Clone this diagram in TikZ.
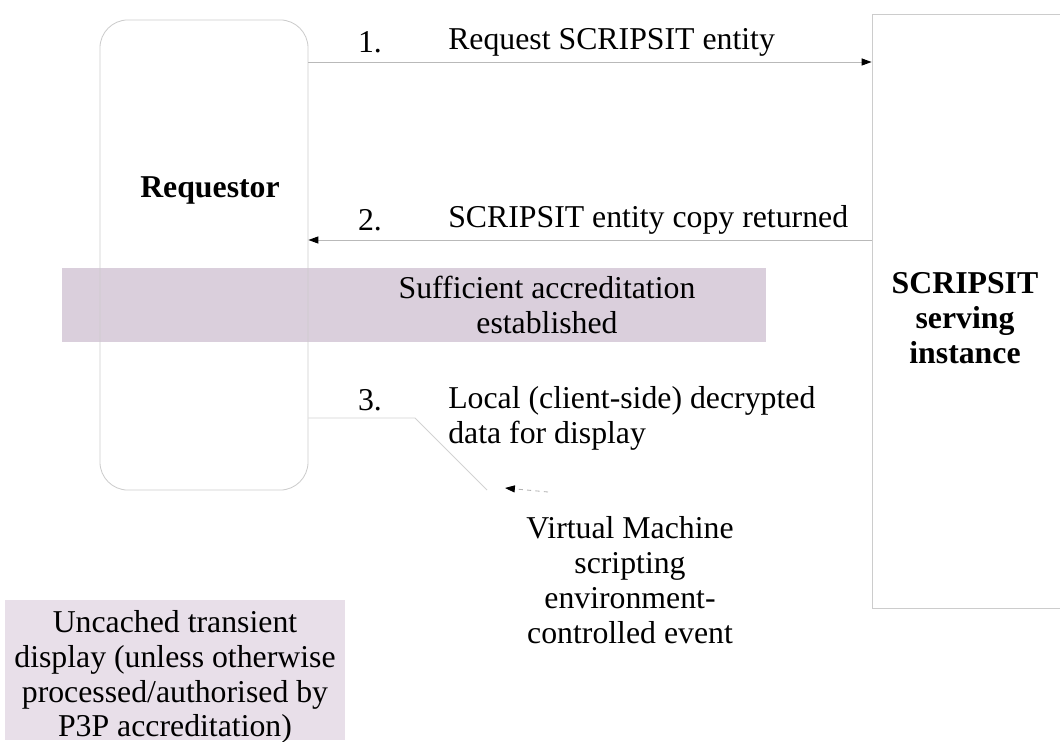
\documentclass[tikz,border=0pt]{standalone}
\usepackage{fontspec}
\setmainfont{Liberation Serif}
\usetikzlibrary{arrows.meta,positioning}

\definecolor{accredband}{RGB}{218,207,220}
\definecolor{transbox}{RGB}{232,223,233}

\begin{document}
\begin{tikzpicture}[x=0.025cm,y=-0.025cm,
    every node/.style={font=\fontsize{22.6}{24.8}\selectfont, inner sep=0pt},
    entitybox/.style={draw=gray!40, line width=0.6pt},
    boldtext/.style={font=\fontsize{22.6}{24.8}\selectfont\bfseries, align=center},
    msg/.style={draw=gray!55, line width=0.6pt, -{Triangle[length=7pt,width=5pt,color=black]}}]

  \useasboundingbox (0,0) rectangle (1060,742);

  % accreditation band, behind the requestor
  \node[fill=accredband, minimum width=17.6cm, minimum height=1.85cm] (band) at (414,305) {};
  \node[align=center] (bandtext) at (547,305) {Sufficient accreditation\\established};

  % the two parties
  \node[entitybox, rounded corners=0.7cm, minimum width=5.2cm, minimum height=11.75cm] (req) at (204,255) {};
  \node[boldtext] (reqtext) at (210,190) {Requestor};
  \node[entitybox, minimum width=5.2cm, minimum height=14.85cm] (srv) at (976,311) {};
  \node[boldtext] (srvtext) at (965,318) {SCRIPSIT\\serving\\instance};

  % step numbers
  \foreach \y/\k in {42/1, 220/2, 400/3} {
    \node (step\k) at (370,\y) {\k.};
  }

  % messages 1 and 2
  \draw[msg] (req.east |- 0,62) -- (srv.west |- 0,62);
  \node[anchor=west] (msg1) at (448,42) {Request SCRIPSIT entity};
  \draw[msg] (srv.west |- 0,240) -- (req.east |- 0,240);
  \node[anchor=west] (msg2) at (448,220) {SCRIPSIT entity copy returned};

  % step 3, local display
  \coordinate (bend) at (415,418);
  \coordinate (fade) at (487,490);
  \draw[gray!35, line width=0.6pt] (req.east |- bend) -- (bend) -- (fade);
  \node[anchor=west, align=left] (msg3) at (448,418) {Local (client-side) decrypted\\data for display};

  % VM event
  \node[align=center] (vm) at (630,580) {Virtual Machine\\scripting\\environment-\\controlled event};
  \coordinate (vmtail) at (548,492);
  \coordinate (vmtip) at (505,488);
  \draw[gray!60, line width=0.6pt, dash pattern=on 3pt off 3pt,
        -{Triangle[length=7pt,width=5pt,color=black]}] (vmtail) -- (vmtip);

  % transient display note
  \node[fill=transbox, minimum width=8.5cm, minimum height=3.5cm] (transient) at (175,670) {};
  \node[align=center] (transtext) at (175,677)
    {Uncached transient\\display (unless otherwise\\processed/authorised by\\P3P accreditation)};

\end{tikzpicture}
\end{document}
